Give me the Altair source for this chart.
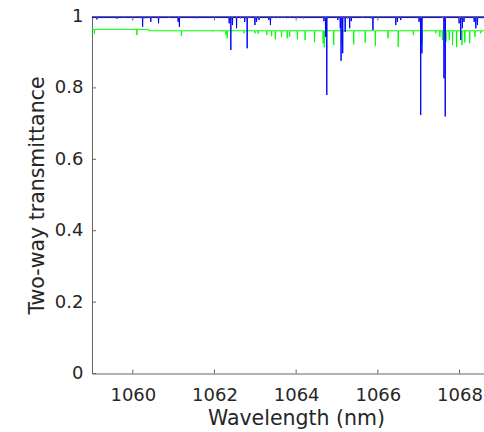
import altair as alt
import pandas as pd

# ---------------- data ----------------
x_ticks = [1060, 1062, 1064, 1066, 1068]
y_ticks = [0, 0.2, 0.4, 0.6, 0.8, 1.0]

blue_base_breaks = [1059.0, 1069.0]
blue_base_levels = [0.997]
blue_dip_wl = [1059.12, 1059.61, 1059.79, 1060.24, 1060.29, 1060.44, 1060.63, 1060.89,
               1061.11, 1061.14, 1061.56, 1062.36, 1062.40, 1062.44, 1062.54, 1062.64,
               1062.74, 1062.80, 1062.85, 1062.99, 1063.03, 1063.09, 1063.33, 1063.37,
               1063.46, 1063.56, 1063.64, 1063.72, 1063.84, 1064.18, 1064.68, 1064.72,
               1064.75, 1065.02, 1065.08, 1065.10, 1065.14, 1065.20, 1065.25, 1065.31,
               1065.35, 1065.63, 1065.84, 1065.88, 1066.44, 1066.48, 1066.56, 1067.01,
               1067.05, 1067.08, 1067.58, 1067.62, 1067.65, 1067.99, 1068.03, 1068.07,
               1068.11, 1068.36, 1068.40, 1068.44, 1068.56]
blue_dip_val = [0.992, 0.994, 0.998, 0.971, 0.995, 0.985, 0.981, 0.997,
                0.985, 0.971, 0.995, 0.981, 0.906, 0.976, 0.967, 0.995,
                0.985, 0.911, 0.996, 0.976, 0.985, 0.990, 0.990, 0.976,
                0.997, 0.997, 0.997, 0.997, 0.997, 0.995, 0.987, 0.943,
                0.780, 0.990, 0.967, 0.876, 0.897, 0.957, 0.995, 0.967,
                0.987, 0.997, 0.995, 0.962, 0.976, 0.985, 0.990, 0.985,
                0.724, 0.897, 0.997, 0.827, 0.720, 0.981, 0.934, 0.967,
                0.985, 0.985, 0.967, 0.976, 0.995]

green_base_breaks = [1059.0, 1060.39, 1069.0]
green_base_levels = [0.964, 0.960]
green_dip_wl = [1059.06, 1060.10, 1061.19, 1061.97, 1062.18, 1062.28, 1062.31, 1062.72,
                1062.99, 1063.07, 1063.28, 1063.40, 1063.49, 1063.64, 1063.78, 1063.84,
                1064.03, 1064.22, 1064.45, 1064.66, 1064.69, 1064.92, 1065.12, 1065.41,
                1065.69, 1065.94, 1066.25, 1066.50, 1066.87, 1067.08, 1067.42, 1067.52,
                1067.58, 1067.67, 1067.75, 1067.83, 1067.93, 1068.06, 1068.13, 1068.25,
                1068.38, 1068.52]
green_dip_val = [0.951, 0.948, 0.946, 0.958, 0.958, 0.948, 0.939, 0.953,
                 0.953, 0.952, 0.948, 0.945, 0.936, 0.943, 0.939, 0.943,
                 0.936, 0.934, 0.928, 0.925, 0.914, 0.920, 0.925, 0.922,
                 0.927, 0.918, 0.939, 0.915, 0.948, 0.925, 0.953, 0.943,
                 0.934, 0.930, 0.934, 0.920, 0.914, 0.920, 0.927, 0.925,
                 0.943, 0.953]

X_MIN, X_MAX = 1059.0, 1068.6
HALF = 0.006  # half-width of a drawn absorption spike (nm)


def build(name, wl, val, breaks, levels):
    def base_at(x):
        for k in range(len(levels)):
            if x < breaks[k + 1]:
                return levels[k]
        return levels[-1]

    pts = [(breaks[0], 0, levels[0]), (breaks[-1], 9, levels[-1])]
    for k in range(1, len(levels)):
        pts.append((breaks[k], 0, levels[k - 1]))
        pts.append((breaks[k], 1, levels[k]))
    for x, v in zip(wl, val):
        b = base_at(x)
        pts.append((x - HALF, 0, b))
        pts.append((x, 0, v))
        pts.append((x + HALF, 0, b))
    pts.sort(key=lambda p: (p[0], p[1]))
    return pd.DataFrame({"wl": [p[0] for p in pts], "T": [p[2] for p in pts],
                         "series": name, "i": list(range(len(pts)))})


green_df = build("green", green_dip_wl, green_dip_val, green_base_breaks, green_base_levels)
blue_df = build("blue", blue_dip_wl, blue_dip_val, blue_base_breaks, blue_base_levels)

W, H = 392, 357
FONT = "DejaVu Sans"
TXT = "#262626"
AX = "#666666"

xscale = alt.Scale(domain=[X_MIN, X_MAX], nice=False, zero=False)
yscale = alt.Scale(domain=[0, 1], nice=False, zero=False)

x_axis = alt.Axis(title="Wavelength (nm)", values=x_ticks, format="d", ticks=False,
                  grid=False, labelPadding=27, labelBaseline="alphabetic", labelFontSize=18,
                  labelFont=FONT, labelColor=TXT, labelFlush=False, titleFont=FONT,
                  titleFontSize=20.5, titleFontWeight="normal", titleColor=TXT, titleX=204,
                  titleY=51, titleBaseline="alphabetic", titleAlign="center",
                  domainColor=AX, domainWidth=1)
y_axis = alt.Axis(title="Two-way transmittance", values=y_ticks, format=".1~f", ticks=False,
                  grid=False, labelPadding=9, labelBaseline="middle",
                  labelFontSize=18, labelFont=FONT, labelColor=TXT, labelFlush=False,
                  titleFont=FONT, titleFontSize=20.5, titleFontWeight="normal", titleColor=TXT,
                  titleX=-49, titleY=H / 2, titleAngle=270, titleBaseline="alphabetic",
                  titleAlign="center", domainColor=AX, domainWidth=1)

X = alt.X("wl:Q", scale=xscale, axis=x_axis)
Y = alt.Y("T:Q", scale=yscale, axis=y_axis)

green = alt.Chart(green_df).mark_line(color="#00ff00", strokeWidth=1, clip=True).encode(
    x=X, y=Y, order=alt.Order("i:Q"))
blue = alt.Chart(blue_df).mark_line(color="#0000ff", strokeWidth=1, clip=True).encode(
    x=X, y=Y, order=alt.Order("i:Q"))

xt = pd.DataFrame({"wl": x_ticks})
yt = pd.DataFrame({"T": y_ticks})

top_border = alt.Chart(xt).mark_rule(color=AX, strokeWidth=1).encode(
    x=alt.value(0), x2=alt.value(W), y=alt.value(0))
bottom_ticks = alt.Chart(xt).mark_rule(color=AX, strokeWidth=1).encode(
    x=X, y=alt.value(H), y2=alt.value(H - 4))
top_ticks = alt.Chart(xt).mark_rule(color=AX, strokeWidth=1).encode(
    x=X, y=alt.value(0), y2=alt.value(4))
left_ticks = alt.Chart(yt).mark_rule(color=AX, strokeWidth=1).encode(
    y=Y, x=alt.value(0), x2=alt.value(4))

chart = alt.layer(green, blue, top_border, bottom_ticks, top_ticks, left_ticks).properties(
    width=W, height=H,
    autosize=alt.AutoSizeParams(type="none"),
    padding={"left": 92, "top": 16.5, "right": 0, "bottom": 58.5},
    background="white",
).configure_view(stroke=None)

chart.save("out.html", embed_options={"renderer": "svg", "actions": False})
